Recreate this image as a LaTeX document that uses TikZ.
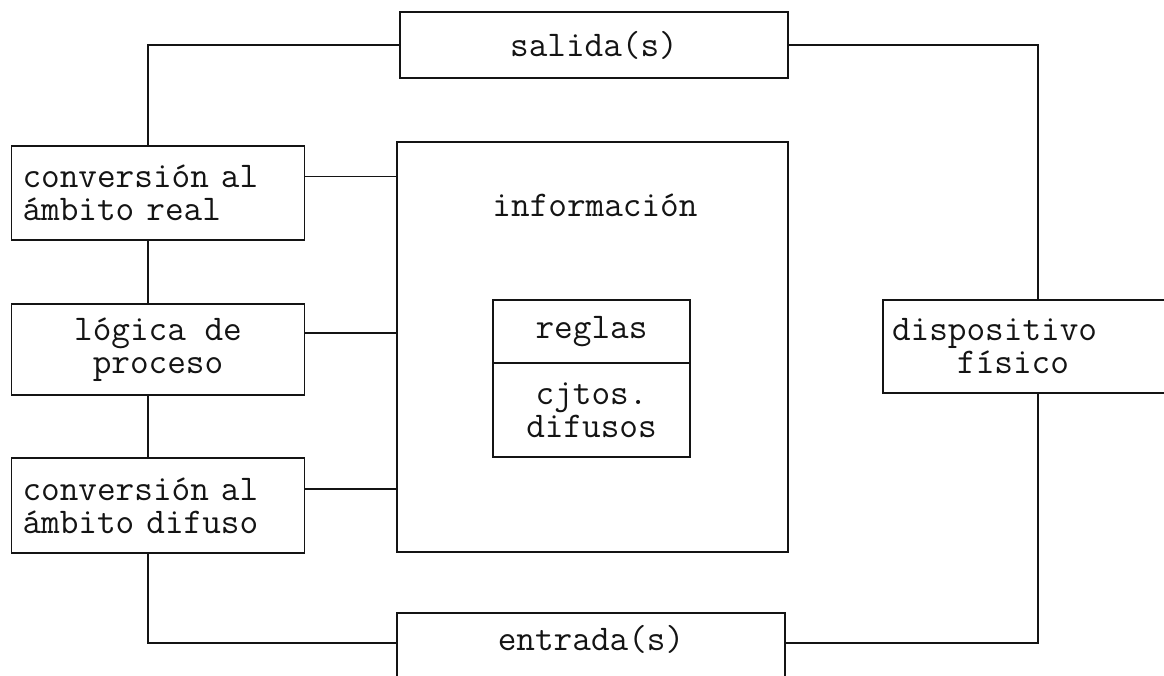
\documentclass[tikz,border=0pt]{standalone}
\usepackage{tikz}
\usetikzlibrary{positioning}
\definecolor{cLine}{RGB}{20,20,20}

\begin{document}
\begin{tikzpicture}[x=0.02cm,y=-0.02cm,
    txt/.style={font=\ttfamily\fontsize{20.6}{18.8}\selectfont,text=cLine},
    box/.style={txt,draw=cLine,line width=1pt,inner sep=0pt,outer sep=0pt,align=center},
    link/.style={draw=cLine,line width=1pt}]
  \useasboundingbox (0,0) rectangle (1164,676);
  \clip (0,0) rectangle (1164,676);
  % outer loop
  \node[box,minimum width=7.76cm,minimum height=1.32cm] (salida) at (594,45) {salida(s)};
  \node[box,minimum width=7.76cm,minimum height=1.6cm,text depth=0.6cm] (entrada) at (591,653) {entrada(s)};
  \node[box,minimum width=6.2cm,minimum height=1.86cm,text width=5.84cm,align=left] (dispo) at (1038,346.5) {dispositivo\\\hspace*{1.8em}físico};
  % left column
  \node[box,minimum width=5.86cm,minimum height=1.88cm,text width=5.42cm,align=left] (convreal) at (158,193) {conversión al\\ámbito real};
  \node[box,minimum width=5.86cm,minimum height=1.82cm] (logica) at (158,349.5) {lógica de\\proceso};
  \node[box,minimum width=5.86cm,minimum height=1.9cm,text width=5.42cm,align=left] (convdif) at (158,505.5) {conversión al\\ámbito difuso};
  % knowledge base
  \node[box,minimum width=7.82cm,minimum height=8.2cm] (info) at (592.5,347) {};
  \node[txt] (infotxt) at (595,205) {información};
  \node[box,minimum width=3.94cm,minimum height=1.26cm] (reglas) at (591.5,331.5) {reglas};
  \node[box,minimum width=3.94cm,minimum height=1.88cm,below=0pt of reglas] (cjtos) {cjtos.\\difusos};
  % connections
  \draw[link] (salida.west) -| ([xshift=-0.2cm]convreal.north);
  \draw[link] ([xshift=-0.2cm]convreal.south) -- ([xshift=-0.2cm]logica.north);
  \draw[link] ([xshift=-0.2cm]logica.south) -- ([xshift=-0.2cm]convdif.north);
  \draw[link] ([xshift=-0.2cm]convdif.south) |- ([yshift=0.2cm]entrada.west);
  \draw[link] ([yshift=0.2cm]entrada.east) -| (dispo.south);
  \draw[link] (salida.east) -| (dispo.north);
  \foreach \n in {convreal,logica,convdif}
    \draw[link] ([yshift=0.33cm]\n.east) -- ([yshift=0.33cm]\n.east -| info.west);
\end{tikzpicture}
\end{document}
